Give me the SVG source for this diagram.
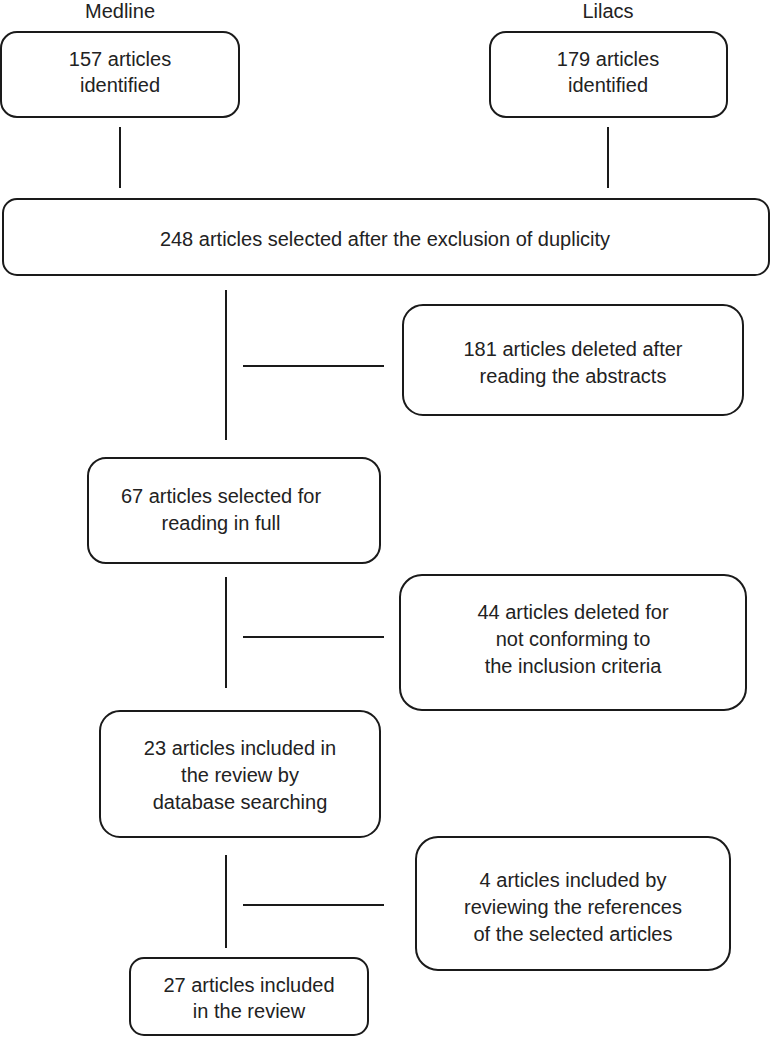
<svg xmlns="http://www.w3.org/2000/svg" width="771" height="1037" viewBox="0 0 771 1037">
<style>
.b{fill:#fff;stroke:#1a1a1a;stroke-width:2}
.l{stroke:#1a1a1a;stroke-width:2;fill:none}
text{font-family:"Liberation Sans",Arial,sans-serif;font-size:20px;fill:#222;text-anchor:middle}
</style>
<rect width="771" height="1037" fill="#fff"/>
<g id="labels">
<text x="120" y="18">Medline</text>
<text x="608" y="18">Lilacs</text>
</g>
<g id="connectors">
<line class="l" x1="120" y1="127" x2="120" y2="188"/>
<line class="l" x1="608" y1="127" x2="608" y2="188"/>
<line class="l" x1="226" y1="290" x2="226" y2="440"/>
<line class="l" x1="243" y1="366" x2="384" y2="366"/>
<line class="l" x1="226" y1="577" x2="226" y2="688"/>
<line class="l" x1="243" y1="637" x2="384" y2="637"/>
<line class="l" x1="226" y1="855" x2="226" y2="948"/>
<line class="l" x1="243" y1="905" x2="384" y2="905"/>
</g>
<g id="n1"><rect class="b" x="1" y="32" width="238" height="85" rx="16"/>
<text x="120" y="66">157 articles</text><text x="120" y="92">identified</text></g>
<g id="n2"><rect class="b" x="490" y="32" width="237" height="85" rx="16"/>
<text x="608" y="66">179 articles</text><text x="608" y="92">identified</text></g>
<g id="n3"><rect class="b" x="3" y="199" width="766" height="76" rx="14"/>
<text x="385" y="246">248 articles selected after the exclusion of duplicity</text></g>
<g id="n4"><rect class="b" x="403" y="305" width="340" height="110" rx="20"/>
<text x="573" y="356">181 articles deleted after</text><text x="573" y="383">reading the abstracts</text></g>
<g id="n5"><rect class="b" x="88" y="458" width="292" height="105" rx="18"/>
<text x="221" y="503">67 articles selected for</text><text x="221" y="530">reading in full</text></g>
<g id="n6"><rect class="b" x="400" y="575" width="346" height="135" rx="22"/>
<text x="573" y="619">44 articles deleted for</text><text x="573" y="646">not conforming to</text><text x="573" y="673">the inclusion criteria</text></g>
<g id="n7"><rect class="b" x="100" y="711" width="280" height="126" rx="20"/>
<text x="240" y="755">23 articles included in</text><text x="240" y="782">the review by</text><text x="240" y="809">database searching</text></g>
<g id="n8"><rect class="b" x="416" y="837" width="314" height="133" rx="22"/>
<text x="573" y="887">4 articles included by</text><text x="573" y="914">reviewing the references</text><text x="573" y="941">of the selected articles</text></g>
<g id="n9"><rect class="b" x="130" y="958" width="238" height="77" rx="14"/>
<text x="249" y="992">27 articles included</text><text x="249" y="1018">in the review</text></g>
</svg>
